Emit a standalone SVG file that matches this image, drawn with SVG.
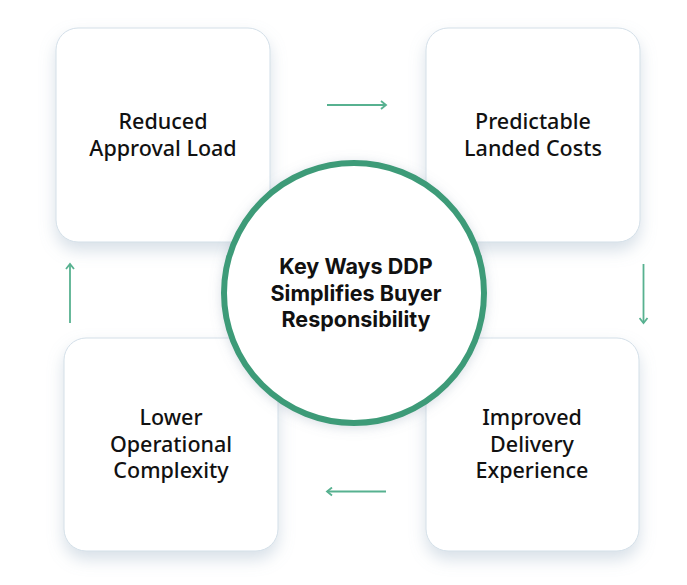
<svg xmlns="http://www.w3.org/2000/svg" width="687" height="585" viewBox="0 0 687 585">
  <defs>
    <filter id="boxShadow" x="-20%" y="-20%" width="140%" height="150%">
      <feDropShadow dx="0" dy="8" stdDeviation="8" flood-color="#8fa6bd" flood-opacity="0.35"/>
    </filter>
    <filter id="circShadow" x="-20%" y="-20%" width="140%" height="140%">
      <feDropShadow dx="0" dy="2" stdDeviation="6" flood-color="#7d93a8" flood-opacity="0.3"/>
    </filter>
    <marker id="chev" viewBox="0 0 10 10" refX="8" refY="5" markerWidth="10" markerHeight="10" markerUnits="userSpaceOnUse" orient="auto">
      <path d="M3,1 L8,5 L3,9" fill="none" stroke="#57b190" stroke-width="1.8"/>
    </marker>
  </defs>
  <style>
    .box { fill: #ffffff; stroke: #d3dfe8; stroke-width: 1; filter: url(#boxShadow); }
    .lbl { font-family: "Noto Sans", "Open Sans", sans-serif; font-weight: 500; font-size: 21.5px; fill: #111111; text-anchor: middle; }
    .ctr { font-family: "Inter", "DejaVu Sans", sans-serif; font-weight: 700; font-size: 21.5px; fill: #111111; text-anchor: middle; }
    .conn { stroke: #57b190; stroke-width: 1.8; fill: none; marker-end: url(#chev); }
  </style>
  <rect width="687" height="585" fill="#ffffff"/>

  <g id="node-reduced">
    <rect class="box" x="56" y="28" width="214" height="214" rx="22"/>
    <text class="lbl" x="163" y="129">Reduced</text>
    <text class="lbl" x="163" y="156">Approval Load</text>
  </g>
  <g id="node-predictable">
    <rect class="box" x="426" y="28" width="214" height="214" rx="22"/>
    <text class="lbl" x="533" y="129">Predictable</text>
    <text class="lbl" x="533" y="156">Landed Costs</text>
  </g>
  <g id="node-lower">
    <rect class="box" x="64" y="338" width="214" height="213" rx="22"/>
    <text class="lbl" x="171" y="425">Lower</text>
    <text class="lbl" x="171" y="452">Operational</text>
    <text class="lbl" x="171" y="478">Complexity</text>
  </g>
  <g id="node-improved">
    <rect class="box" x="426" y="338" width="213" height="213" rx="22"/>
    <text class="lbl" x="532" y="425">Improved</text>
    <text class="lbl" x="532" y="452">Delivery</text>
    <text class="lbl" x="532" y="478">Experience</text>
  </g>

  <g id="connectors">
    <line class="conn" x1="327" y1="105" x2="386" y2="105"/>
    <line class="conn" x1="643.5" y1="264" x2="643.5" y2="323"/>
    <line class="conn" x1="386" y1="491.5" x2="327" y2="491.5"/>
    <line class="conn" x1="70" y1="323" x2="70" y2="264"/>
  </g>

  <g id="node-center">
    <circle cx="354" cy="293" r="130" fill="#ffffff" stroke="#3e9b78" stroke-width="6" filter="url(#circShadow)"/>
    <text class="ctr" x="356" y="274">Key Ways DDP</text>
    <text class="ctr" x="356" y="301">Simplifies Buyer</text>
    <text class="ctr" x="356" y="327">Responsibility</text>
  </g>
</svg>
